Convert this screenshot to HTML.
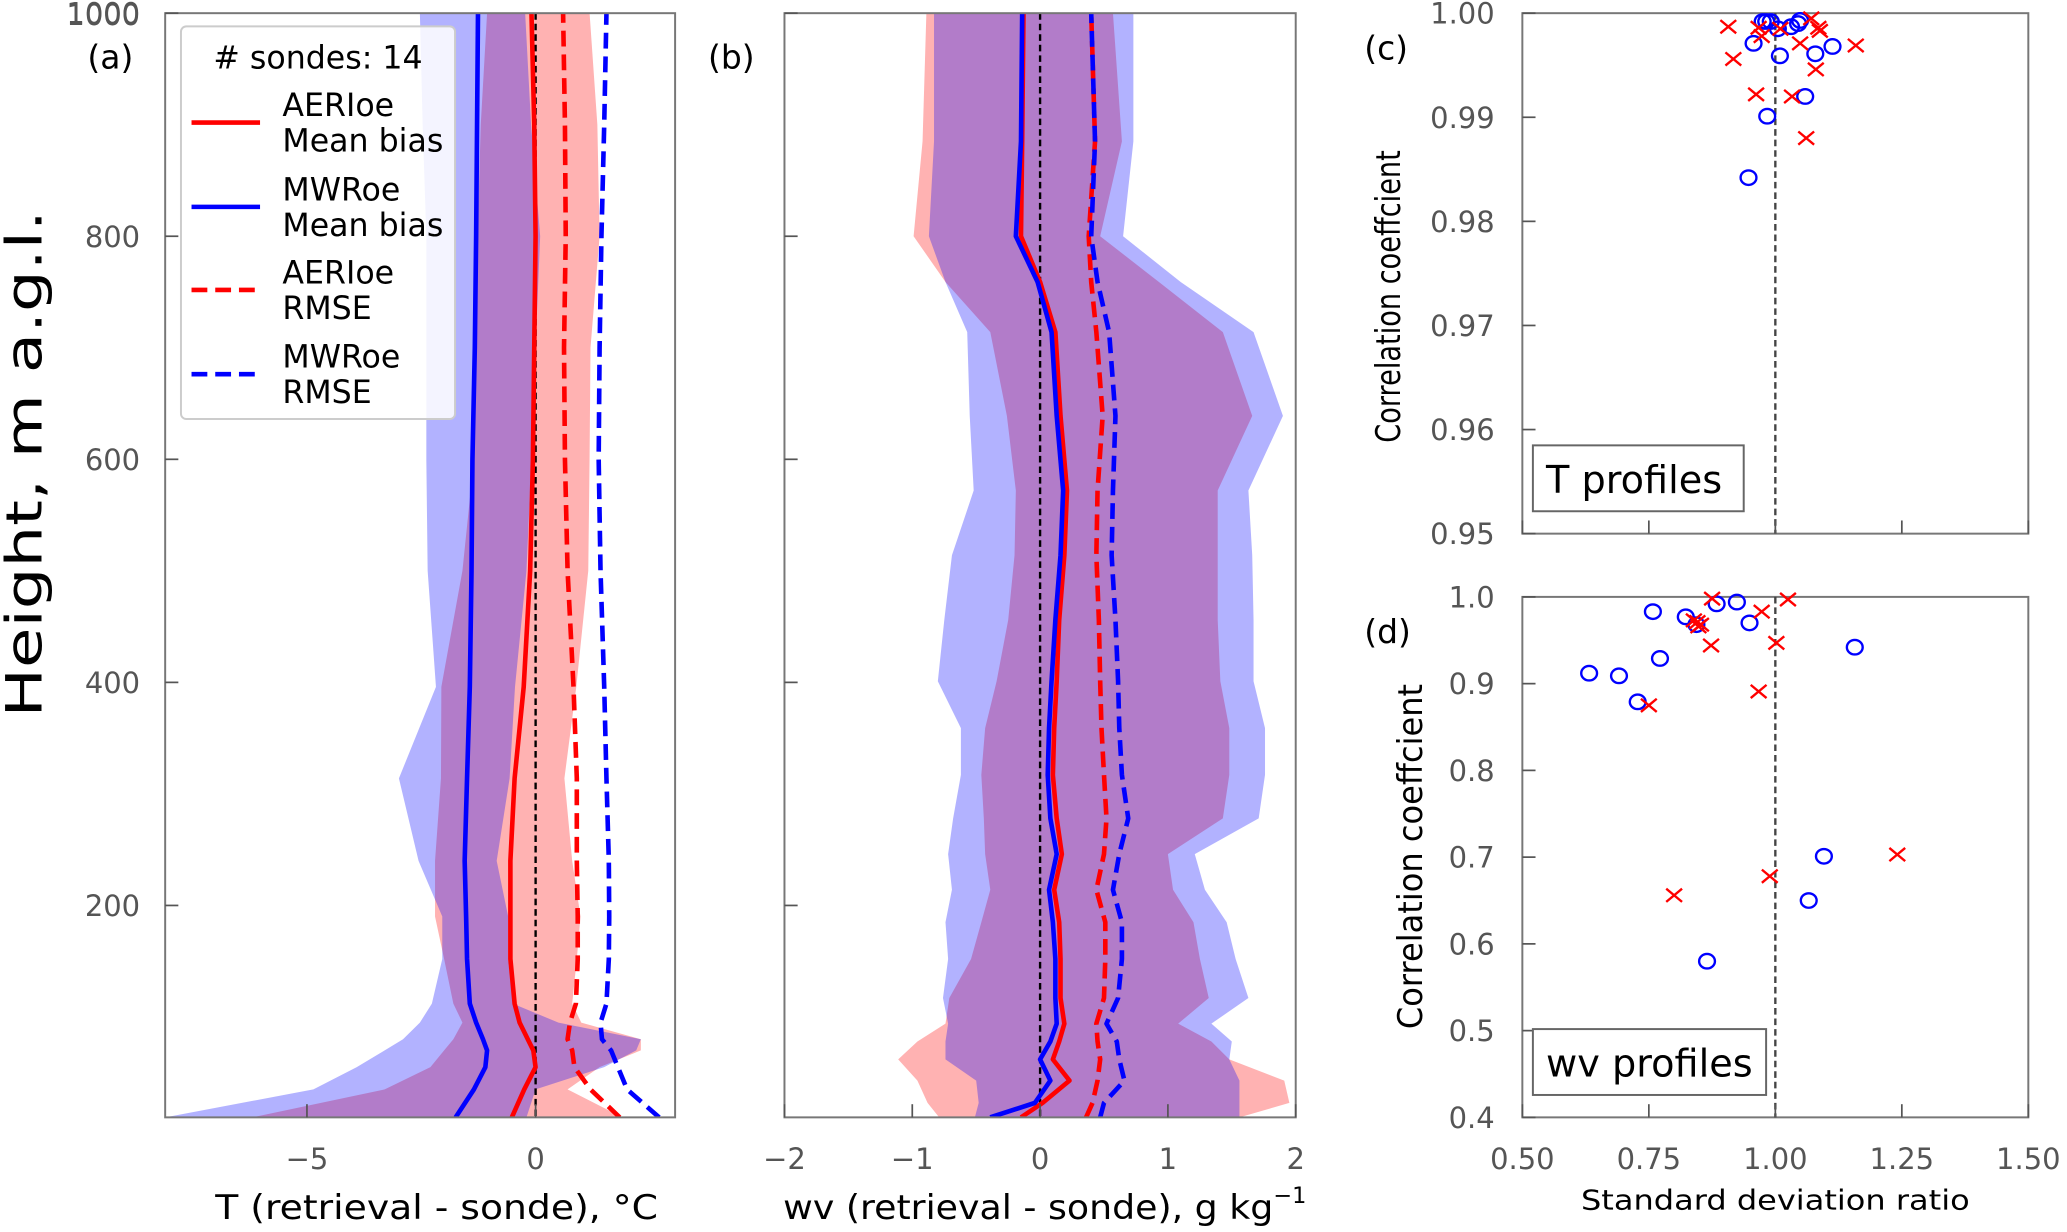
<!DOCTYPE html>
<html><head><meta charset="utf-8">
<style>
html,body{margin:0;padding:0;background:#fff;}
svg{display:block;font-family:"DejaVu Sans","Liberation Sans",sans-serif;}
.tk{fill:#555;font-size:22px;}
.ttl{fill:#000;font-size:26px;}
</style></head>
<body>
<svg id="fig" xmlns="http://www.w3.org/2000/svg" width="2067" height="1232" viewBox="0 0 1568 935">
<rect width="1568" height="935" fill="#fff"/>
<g id="pa"></g>
<g id="pb"></g>
<g id="pc"></g>
<g id="pd"></g>
</svg>
<script>
// ---- Panel (a) temperature data ----
const heightsA = [10,35,55,70,80,95,112,152,190,240,314,396,500,600,700,800,900,1000];
const aerBandLoA = [-6.2,-3.3,-2.3,-2.0,-1.8,-1.6,-1.8,-2.0,-2.2,-2.2,-2.07,-2.06,-1.6,-1.35,-1.3,-1.27,-1.2,-1.06];
const aerBandHiA = [1.9,0.7,1.4,2.3,2.3,1.0,0.8,0.9,0.98,0.8,0.63,0.89,1.15,1.18,1.2,1.4,1.35,1.18];
const mwrBandLoA = [-8.1,-4.86,-3.91,-3.3,-2.9,-2.53,-2.27,-2.04,-2.04,-2.56,-2.99,-2.18,-2.36,-2.39,-2.39,-2.39,-2.47,-2.53];
const mwrBandHiA = [-0.2,0.0,1.5,2.2,2.3,0.5,-0.5,-0.6,-0.6,-0.85,-0.57,-0.45,-0.2,-0.09,0.0,0.1,-0.1,-0.23];
const aerBiasA = [-0.52,-0.25,0.0,-0.05,-0.17,-0.35,-0.46,-0.55,-0.55,-0.55,-0.46,-0.26,-0.12,-0.06,-0.03,0.0,-0.03,-0.09];
const mwrBiasA = [-1.75,-1.35,-1.1,-1.06,-1.15,-1.3,-1.44,-1.5,-1.52,-1.55,-1.5,-1.44,-1.4,-1.38,-1.33,-1.3,-1.28,-1.26];
const aerRmseA = [1.84,1.2,0.85,0.8,0.7,0.75,0.88,0.92,0.92,0.9,0.9,0.83,0.7,0.64,0.62,0.66,0.64,0.6];
const mwrRmseA = [2.7,2.0,1.8,1.65,1.45,1.42,1.55,1.6,1.61,1.6,1.55,1.5,1.42,1.38,1.4,1.44,1.5,1.55];
const xTicksA = [-5,0];
const yTicks = [200,400,600,800,1000];
// ---- Panel (b) water vapour data ----
const heightsB = [10,23,43,62,78,94,117,152,185,214,246,278,317,359,401,456,514,572,639,714,759,800,885,1000];
const aerBandLoB = [-0.79,-0.88,-0.96,-1.11,-0.96,-0.74,-0.71,-0.54,-0.46,-0.39,-0.43,-0.44,-0.46,-0.43,-0.34,-0.25,-0.2,-0.19,-0.26,-0.39,-0.74,-0.99,-0.92,-0.89];
const aerBandHiB = [1.56,1.95,1.91,1.48,1.34,1.08,1.32,1.25,1.2,1.04,1.0,1.43,1.48,1.48,1.41,1.39,1.39,1.39,1.66,1.43,0.93,0.47,0.64,0.57];
const mwrBandLoB = [-0.51,-0.48,-0.5,-0.74,-0.74,-0.72,-0.76,-0.72,-0.74,-0.69,-0.72,-0.68,-0.62,-0.62,-0.8,-0.75,-0.69,-0.52,-0.55,-0.57,-0.74,-0.87,-0.83,-0.83];
const mwrBandHiB = [1.56,1.56,1.56,1.48,1.5,1.34,1.63,1.53,1.46,1.29,1.21,1.71,1.76,1.76,1.67,1.67,1.66,1.63,1.9,1.67,1.1,0.65,0.73,0.73];
const aerBiasB = [-0.15,0.02,0.23,0.1,0.15,0.19,0.16,0.16,0.15,0.11,0.17,0.13,0.1,0.11,0.13,0.15,0.19,0.21,0.16,0.12,0.0,-0.15,-0.14,-0.13];
const mwrBiasB = [-0.39,-0.04,0.08,0.0,0.08,0.13,0.12,0.12,0.1,0.07,0.13,0.08,0.06,0.07,0.09,0.12,0.16,0.18,0.13,0.09,-0.02,-0.19,-0.15,-0.14];
const aerRmseB = [0.36,0.41,0.45,0.47,0.45,0.44,0.5,0.51,0.51,0.44,0.5,0.52,0.5,0.48,0.47,0.46,0.44,0.45,0.49,0.44,0.4,0.38,0.43,0.4];
const mwrRmseB = [0.47,0.5,0.66,0.62,0.6,0.52,0.61,0.64,0.64,0.57,0.62,0.69,0.64,0.62,0.61,0.59,0.56,0.57,0.59,0.54,0.45,0.4,0.43,0.4];
const xTicksB = [-2,-1,0,1,2];
// ---- Panel (c) T profile stats ----
const cMwrX = [0.982,0.991,1.031,1.049,0.957,1.009,1.079,1.113,1.059,0.984,0.947,1.005,0.975,1.045];
const cMwrY = [0.9992,0.9992,0.9987,0.9993,0.9971,0.9959,0.9961,0.9968,0.9920,0.9901,0.9842,0.9985,0.9992,0.9990];
const cAerX = [0.907,0.967,1.071,1.085,1.088,0.917,1.049,1.159,1.080,0.962,1.033,1.061,0.973,1.010];
const cAerY = [0.9987,0.9986,0.9995,0.9986,0.9983,0.9956,0.9971,0.9969,0.9946,0.9922,0.9920,0.9880,0.9978,0.9985];
const cYTicks = [0.95,0.96,0.97,0.98,0.99,1.00];
// ---- Panel (d) wv profile stats ----
const dMwrX = [0.758,0.823,0.884,0.924,0.949,0.632,0.691,0.772,0.728,1.157,1.096,1.066,0.865,0.844];
const dMwrY = [0.983,0.977,0.992,0.994,0.970,0.912,0.909,0.929,0.879,0.942,0.701,0.650,0.580,0.968];
const dAerX = [0.846,0.853,0.848,0.875,0.873,0.973,1.002,1.025,0.750,0.967,0.800,0.989,1.241,0.839];
const dAerY = [0.971,0.968,0.966,0.998,0.944,0.983,0.947,0.997,0.875,0.891,0.656,0.678,0.703,0.973];
const dYTicks = [0.4,0.5,0.6,0.7,0.8,0.9,1.0];
const ratioTicks = [0.5,0.75,1.0,1.25,1.5];

const NS = "http://www.w3.org/2000/svg";
function mk(parent, tag, attrs, text){
  const e = document.createElementNS(NS, tag);
  for (const k in attrs) e.setAttribute(k, attrs[k]);
  if (text !== undefined) e.textContent = text;
  parent.appendChild(e);
  return e;
}
function lin(d0,d1,r0,r1){ return v => r0 + (v-d0)/(d1-d0)*(r1-r0); }

const Y0 = 10, Y1 = 848;
const yH = lin(10, 1000, Y1, Y0);

function profilePanel(g, x0, x1, xmin, xmax, hs, bands, lines, ticks, fmt, showYLabels){
  const xs = lin(xmin, xmax, x0, x1);
  const cp = mk(document.getElementById('fig'), 'clipPath', {id: 'clip'+g.id});
  mk(cp, 'rect', {x:x0, y:Y0, width:x1-x0, height:Y1-Y0});
  const inner = mk(g, 'g', {'clip-path': 'url(#clip'+g.id+')'});
  
  
  bands.forEach(b => {
    let pts = hs.map((h,i)=>xs(b.lo[i]).toFixed(1)+','+yH(h).toFixed(1));
    for (let i=hs.length-1;i>=0;i--) pts.push(xs(b.hi[i]).toFixed(1)+','+yH(hs[i]).toFixed(1));
    const p = mk(inner, 'polygon', {points: pts.join(' '), fill: b.color, 'fill-opacity': 0.3});
    
    
  });
  const z = mk(inner, 'line', {x1: xs(0), x2: xs(0), y1: Y0, y2: Y1, stroke: '#000', 'stroke-width': 1.8, 'stroke-dasharray': '5,3'});
  
  
  lines.forEach(l => {
    const pts = hs.map((h,i)=>xs(l.v[i]).toFixed(1)+','+yH(h).toFixed(1)).join(' ');
    const a = {points: pts, fill: 'none', stroke: l.color, 'stroke-width': 3.5, 'stroke-linejoin': 'round'};
    if (l.dash) a['stroke-dasharray'] = '12,6';
    const p = mk(inner, 'polyline', a);
    
    
  });
  const fr = mk(g, 'rect', {x:x0, y:Y0, width:x1-x0, height:Y1-Y0, fill:'none', stroke:'#777', 'stroke-width':1.5});
  
  
  ticks.forEach(t => {
    const tl = mk(g, 'line', {x1: xs(t), x2: xs(t), y1: Y1, y2: Y1-10, stroke: '#555', 'stroke-width': 1.3});
    
    
    const tx = mk(g, 'text', {x: xs(t), y: 887, 'text-anchor': 'middle', class: 'tk'}, fmt(t));
    
    
  });
  yTicks.forEach(t => {
    const tl = mk(g, 'line', {x1: x0, x2: x0+10, y1: yH(t), y2: yH(t), stroke: '#555', 'stroke-width': 1.3});
    
    
    if (showYLabels) {
      const tx = mk(g, 'text', {x: 106, y: yH(t)+8, 'text-anchor': 'end', class: 'tk'}, String(t));
      
      
    }
  });
}
const minus = t => t < 0 ? '\u2212' + Math.abs(t) : String(t);

const pa = document.getElementById('pa');
profilePanel(pa, 125, 512, -8.1, 3.05, heightsA,
  [{lo: aerBandLoA, hi: aerBandHiA, color: '#ff0000', name: 'aerioe-t-spread'},
   {lo: mwrBandLoA, hi: mwrBandHiA, color: '#0000ff', name: 'mwroe-t-spread'}],
  [{v: aerBiasA, color: '#ff0000', name: 'aerioe-t-mean-bias'},
   {v: mwrBiasA, color: '#0000ff', name: 'mwroe-t-mean-bias'},
   {v: aerRmseA, color: '#ff0000', dash: true, name: 'aerioe-t-rmse'},
   {v: mwrRmseA, color: '#0000ff', dash: true, name: 'mwroe-t-rmse'}],
  xTicksA, minus, true);

const pb = document.getElementById('pb');
profilePanel(pb, 595, 983, -2, 2, heightsB,
  [{lo: aerBandLoB, hi: aerBandHiB, color: '#ff0000', name: 'aerioe-wv-spread'},
   {lo: mwrBandLoB, hi: mwrBandHiB, color: '#0000ff', name: 'mwroe-wv-spread'}],
  [{v: aerBiasB, color: '#ff0000', name: 'aerioe-wv-mean-bias'},
   {v: mwrBiasB, color: '#0000ff', name: 'mwroe-wv-mean-bias'},
   {v: aerRmseB, color: '#ff0000', dash: true, name: 'aerioe-wv-rmse'},
   {v: mwrRmseB, color: '#0000ff', dash: true, name: 'mwroe-wv-rmse'}],
  xTicksB, minus, false);

// titles & labels a/b
let e;
e = mk(pa, 'text', {x: 31, y: 352, fill: '#000', 'text-anchor': 'middle', transform: 'rotate(-90 31 352)', 'font-size': 38, textLength: 385, lengthAdjust: 'spacingAndGlyphs'}, 'Height, m a.g.l.');


e = mk(pa, 'text', {x: 331, y: 925, class: 'ttl', 'text-anchor': 'middle', textLength: 336, lengthAdjust: 'spacingAndGlyphs'}, 'T (retrieval - sonde), \u00B0C');


e = mk(pb, 'text', {x: 594, y: 925, class: 'ttl'});


mk(e, 'tspan', {textLength: 372, lengthAdjust: 'spacingAndGlyphs'}, 'wv (retrieval - sonde), g kg');
mk(e, 'tspan', {dy: -12, 'font-size': 17}, '\u22121');
[['(a)',66,52,pa],['(b)',537,52,pb]].forEach(([t,x,y,g])=>{
  const el = mk(g, 'text', {x:x, y:y, 'font-size': 25, fill:'#000'}, t);
  
  
});
const yl = mk(pa, 'text', {x: 106, y: 19, 'text-anchor': 'end', class: 'tk'}, '1000');



// legend
const leg = mk(pa, 'g', {});


mk(leg, 'rect', {x: 137, y: 20, width: 208, height: 298, rx: 4, fill: '#fff', 'fill-opacity': 0.85, stroke: '#ccc', 'stroke-width': 1.5});
e = mk(leg, 'text', {x: 241, y: 52, 'text-anchor': 'middle', 'font-size': 24, fill: '#000'}, '# sondes: 14');


[['#ff0000',false,93,'AERIoe','Mean bias'],['#0000ff',false,157,'MWRoe','Mean bias'],
 ['#ff0000',true,220,'AERIoe','RMSE'],['#0000ff',true,284,'MWRoe','RMSE']].forEach(([c,d,y,t1,t2])=>{
  const en = mk(leg, 'g', {});
  
  
  const a = {x1: 145, x2: 197, y1: y, y2: y, stroke: c, 'stroke-width': 3.5};
  if (d) a['stroke-dasharray'] = '12,6';
  mk(en, 'line', a);
  mk(en, 'text', {x: 214, y: y-5, 'font-size': 24, fill: '#000'}, t1);
  mk(en, 'text', {x: 214, y: y+22, 'font-size': 24, fill: '#000'}, t2);
});

// scatter panels
function scatterPanel(g, y0, y1, ymin, ymax, yt, yfmt, mx, my, ax, ay, label, boxW, plabel, showX){
  const X0 = 1155, X1 = 1539;
  const xs = lin(0.5, 1.5, X0, X1), ys = lin(ymin, ymax, y1, y0);
  const fr = mk(g, 'rect', {x: X0, y: y0, width: X1-X0, height: y1-y0, fill: 'none', stroke: '#777', 'stroke-width': 1.5});
  
  
  const r = mk(g, 'line', {x1: xs(1), x2: xs(1), y1: y0, y2: y1, stroke: '#444', 'stroke-width': 1.8, 'stroke-dasharray': '5,3'});
  
  
  yt.forEach(t => {
    const tl = mk(g, 'line', {x1: X0, x2: X0+10, y1: ys(t), y2: ys(t), stroke: '#555', 'stroke-width': 1.3});
    
    
    const tx = mk(g, 'text', {x: 1134, y: ys(t)+8, 'text-anchor': 'end', class: 'tk'}, yfmt(t));
    
    
  });
  ratioTicks.forEach(t => {
    const tl = mk(g, 'line', {x1: xs(t), x2: xs(t), y1: y1, y2: y1-10, stroke: '#555', 'stroke-width': 1.3});
    
    
    if (showX) {
      const tx = mk(g, 'text', {x: xs(t), y: 887, 'text-anchor': 'middle', class: 'tk'}, t.toFixed(2));
      
      
    }
  });
  mx.forEach((v,i) => {
    const c = mk(g, 'ellipse', {cx: xs(v), cy: ys(my[i]), rx: 6, ry: 5.5, fill: 'none', stroke: '#0000ff', 'stroke-width': 1.8});
    
    
  });
  ax.forEach((v,i) => {
    const x = xs(v), y = ys(ay[i]);
    const p = mk(g, 'path', {d: `M${x-6},${y-5}L${x+6},${y+5}M${x-6},${y+5}L${x+6},${y-5}`, stroke: '#ff0000', 'stroke-width': 1.8, fill: 'none'});
    
    
  });
  const bx = mk(g, 'g', {});
  
  
  mk(bx, 'rect', {x: 1163, y: y1-67, width: boxW, height: 50, fill: '#fff', stroke: '#666', 'stroke-width': 1.5});
  mk(bx, 'text', {x: 1173, y: y1-31, 'font-size': 29, fill: '#000'}, label);
  const pl = mk(g, 'text', {x: 1035, y: y0+35, 'font-size': 25, fill: '#000'}, plabel);
  
  
  const isC = plabel === '(c)';
  const cx = isC ? 1062 : 1079, cy = isC ? 225 : 650, len = isC ? 222 : 262;
  const yt2 = mk(g, 'text', {x: cx, y: cy, 'text-anchor': 'middle', 'font-size': 26, fill: '#000', transform: `rotate(-90 ${cx} ${cy})`, textLength: len, lengthAdjust: 'spacingAndGlyphs'}, 'Correlation coeffcient');
  
  
}
scatterPanel(document.getElementById('pc'), 10, 405, 0.95, 1.0, cYTicks, t=>t.toFixed(2), cMwrX, cMwrY, cAerX, cAerY, 'T profiles', 160, '(c)', false);
scatterPanel(document.getElementById('pd'), 453, 848, 0.4, 1.0, dYTicks, t=>t.toFixed(1), dMwrX, dMwrY, dAerX, dAerY, 'wv profiles', 177, '(d)', true);
e = mk(document.getElementById('pd'), 'text', {x: 1347, y: 918, 'text-anchor': 'middle', 'font-size': 21, fill: '#000', textLength: 295, lengthAdjust: 'spacingAndGlyphs'}, 'Standard deviation ratio');


</script>
</body></html>
